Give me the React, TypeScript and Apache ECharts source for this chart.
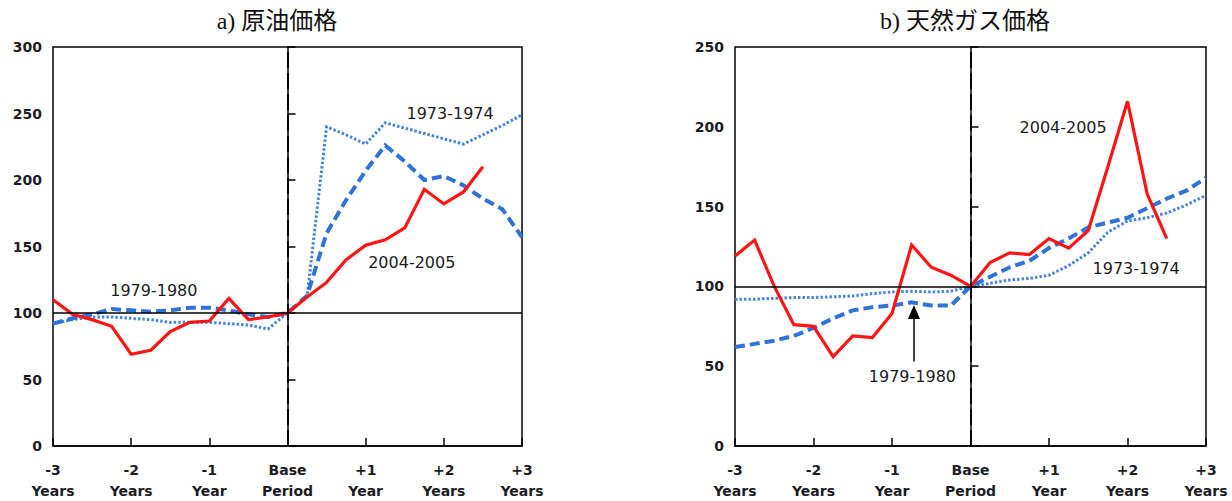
import React, { useEffect, useRef } from 'react';
import * as echarts from 'echarts';

// Quarterly positions, years relative to the base period
const QUARTERS = [-3, -2.75, -2.5, -2.25, -2, -1.75, -1.5, -1.25, -1, -0.75, -0.5, -0.25, 0, 0.25, 0.5, 0.75, 1, 1.25, 1.5, 1.75, 2, 2.25, 2.5, 2.75, 3];
const X_TICK_LABELS = ['-3\nYears', '-2\nYears', '-1\nYear', 'Base\nPeriod', '+1\nYear', '+2\nYears', '+3\nYears'];
const TITLES = ['a) 原油価格', 'b) 天然ガス価格'];
const Y_MAX = [300, 250];
const BASE_LEVEL = 100;

// a) crude oil price index (base period = 100)
const OIL_2004_2005 = [110, 99, 95, 90, 69, 72, 86, 93, 94, 111, 95, 97, 100, 112, 123, 140, 151, 155, 164, 193, 182, 191, 210];
const OIL_1979_1980 = [92, 96, 99, 103, 102, 101, 102, 104, 104, 102, 99, 97, 100, 113, 160, 185, 207, 226, 214, 200, 203, 196, 186, 178, 157];
const OIL_1973_1974 = [92, 95, 97, 97, 96, 95, 93, 93, 93, 92, 91, 88, 100, 112, 240, 234, 227, 243, 239, 235, 231, 227, 234, 241, 249];

// b) natural gas price index (base period = 100)
const GAS_2004_2005 = [119, 129, 100, 76, 75, 56, 69, 68, 83, 126, 112, 107, 100, 115, 121, 120, 130, 124, 135, 175, 216, 158, 130];
const GAS_1979_1980 = [62, 64, 66, 69, 74, 80, 85, 87, 88, 90, 88, 88, 100, 106, 112, 116, 124, 130, 137, 140, 143, 149, 155, 160, 168];
const GAS_1973_1974 = [92, 92, 92.5, 93, 93, 93.5, 94, 95.5, 96.5, 97, 96.5, 97, 100, 102, 104, 105, 107, 113, 121, 134, 141, 143, 146, 151, 157];

const RED = '#ff1414';
const DASH_BLUE = '#2f72d8';
const DOT_BLUE = '#4a84dc';
const INK = '#1c1c24';
const SANS = "'DejaVu Sans', Verdana, sans-serif";
const TITLE_FONT = "'Liberation Serif', 'Noto Sans CJK JP', serif";

const pairs = (arr: number[]) => arr.map((v, i) => [QUARTERS[i], v]);

const tag = (text: string, x: number, y: number) => ({
  coord: [x, y],
  symbol: 'circle',
  symbolSize: 0,
  label: { show: true, formatter: text, position: 'inside', color: INK, fontSize: 16, fontFamily: SANS },
});

function lineSeries(arr: number[], gi: number, color: string, width: number, type: any, extra: any = {}) {
  return {
    type: 'line',
    xAxisIndex: gi,
    yAxisIndex: gi,
    data: pairs(arr),
    showSymbol: false,
    symbol: 'none',
    silent: true,
    lineStyle: { color, width, type, cap: 'butt', join: 'miter' },
    ...extra,
  };
}

function refLines() {
  return {
    silent: true,
    symbol: 'none',
    label: { show: false },
    data: [
      { yAxis: BASE_LEVEL, lineStyle: { color: '#000', width: 1.5, type: 'solid' } },
      { xAxis: 0, lineStyle: { color: '#000', width: 1.8, type: [16, 5] } },
    ],
  };
}

function labelMarks(items: any[]) {
  return { silent: true, symbolSize: 0, data: items };
}

export default function App() {
  const ref = useRef<HTMLDivElement>(null);
  useEffect(() => {
    document.body.style.margin = '0';
    const chart = echarts.init(ref.current!, null, { renderer: 'svg' });
    const grids = [
      { left: 53, top: 47, width: 469, height: 399 },
      { left: 735, top: 47, width: 471, height: 399 },
    ];
    const xAxes = grids.map((_, gi) => ({
      type: 'value',
      gridIndex: gi,
      min: -3,
      max: 3,
      interval: 1,
      axisLine: { show: true, lineStyle: { color: '#000', width: 1.5 } },
      axisTick: { show: true, inside: true, length: 8, lineStyle: { color: '#000', width: 1.5 } },
      splitLine: { show: false },
      axisLabel: {
        margin: 13,
        color: INK,
        fontSize: 14,
        fontWeight: 'bold',
        fontFamily: SANS,
        lineHeight: 21,
        formatter: (v: number) => X_TICK_LABELS[Math.round(v + 3)] ?? '',
      },
    }));
    const yAxes = grids.map((_, gi) => ({
      type: 'value',
      gridIndex: gi,
      min: 0,
      max: Y_MAX[gi],
      interval: 50,
      axisLine: { show: true, lineStyle: { color: '#000', width: 1.5 } },
      axisTick: { show: true, inside: true, length: 8, lineStyle: { color: '#000', width: 1.5 } },
      splitLine: { show: false },
      axisLabel: { margin: 11, color: INK, fontSize: 14, fontWeight: 'bold', fontFamily: SANS },
    }));

    chart.setOption({
      animation: false,
      backgroundColor: '#ffffff',
      title: [
        { text: TITLES[0], left: 272, top: 4, textAlign: 'center', textStyle: { fontFamily: TITLE_FONT, fontSize: 24, fontWeight: 'normal', color: '#111' } },
        { text: TITLES[1], left: 960, top: 4, textAlign: 'center', textStyle: { fontFamily: TITLE_FONT, fontSize: 24, fontWeight: 'normal', color: '#111' } },
      ],
      grid: grids.map((g) => ({
        ...g,
        show: true,
        borderColor: '#000',
        borderWidth: 1.5,
        backgroundColor: 'transparent',
        containLabel: false,
        outerBoundsMode: 'none',
      })),
      xAxis: xAxes,
      yAxis: yAxes,
      series: [
        // a) oil
        lineSeries(OIL_1973_1974, 0, DOT_BLUE, 3, [2.5, 2], {
          markLine: refLines(),
          markPoint: labelMarks([tag('1973-1974', 2.08, 250)]),
        }),
        lineSeries(OIL_1979_1980, 0, DASH_BLUE, 4, [10, 5], {
          markPoint: labelMarks([tag('1979-1980', -1.71, 117)]),
        }),
        lineSeries(OIL_2004_2005, 0, RED, 3.2, 'solid', {
          markPoint: labelMarks([tag('2004-2005', 1.59, 137.6)]),
        }),
        // b) gas
        lineSeries(GAS_1973_1974, 1, DOT_BLUE, 3, [2.5, 2], {
          markLine: refLines(),
          markPoint: labelMarks([tag('1973-1974', 2.11, 111)]),
        }),
        lineSeries(GAS_1979_1980, 1, DASH_BLUE, 4, [10, 5], {
          markPoint: labelMarks([tag('1979-1980', -0.74, 43.4)]),
          markLine: {
            silent: true,
            symbol: ['none', 'triangle'],
            symbolSize: [12, 14],
            label: { show: false },
            lineStyle: { color: '#000', width: 1.5, type: 'solid' },
            data: [[{ coord: [-0.72, 53] }, { coord: [-0.72, 84] }]],
          },
        }),
        lineSeries(GAS_2004_2005, 1, RED, 3.2, 'solid', {
          markPoint: labelMarks([tag('2004-2005', 1.18, 199.7)]),
        }),
      ],
    });
    return () => chart.dispose();
  }, []);
  return <div ref={ref} style={{ width: 1232, height: 501 }} />;
}
